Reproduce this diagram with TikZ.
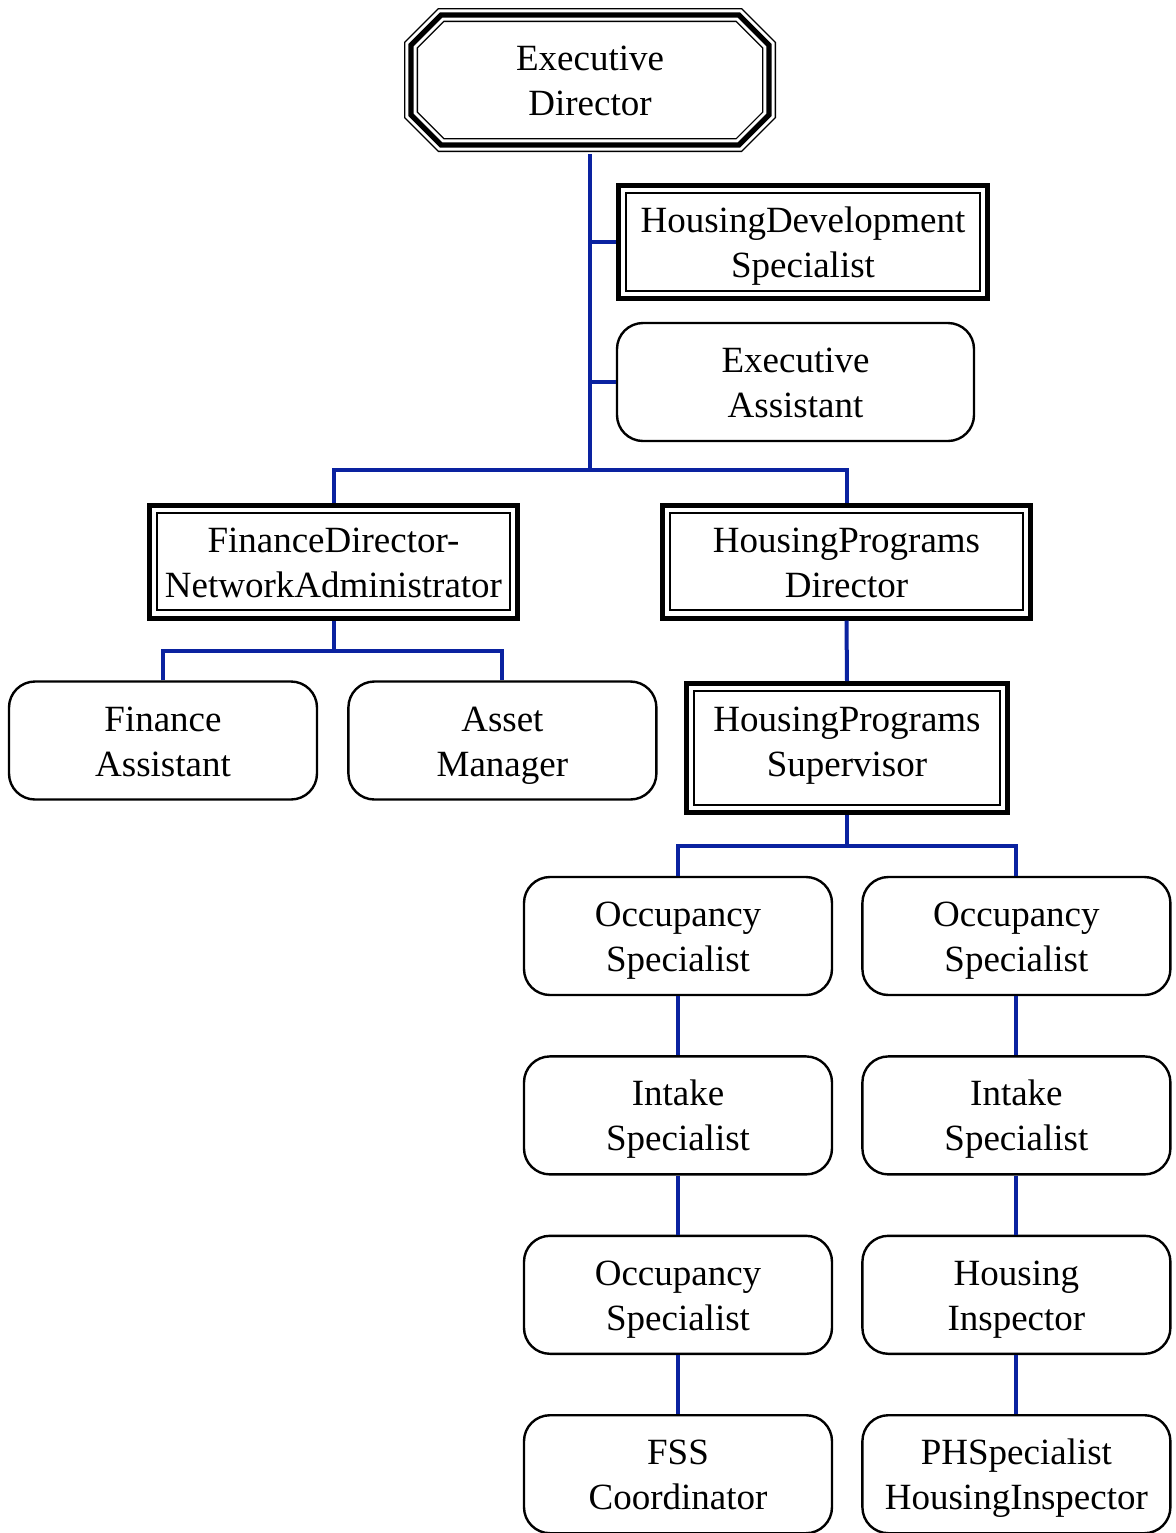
\documentclass[tikz,border=0pt]{standalone}
\usepackage{fontspec}
\setmainfont{Liberation Serif}
\definecolor{linkBlue}{HTML}{0A22A0}
\usetikzlibrary{positioning, shapes.misc}
\newcommand{\boxstrut}{\vrule height 40.5pt depth 5pt width 0pt}

\begin{document}
\begin{tikzpicture}[
      font=\fontsize{18.5pt}{22.5pt}\selectfont,
      every node/.style={execute at begin node=\boxstrut, execute at end node=\boxstrut},
      head/.style={chamfered rectangle, chamfered rectangle xsep=12pt, draw, line width=2.6pt,
                   minimum width=179pt, minimum height=65pt, align=center, outer sep=4.5pt,
                   preaction={draw, line width=0.7pt, double, double distance=5.6pt}},
      lead/.style={draw, line width=2.5pt, minimum height=56.5pt, align=center, inner sep=2pt,
                   path picture={\draw[line width=1pt] ([shift={(3.8pt,3.8pt)}]path picture bounding box.south west)
                                 rectangle ([shift={(-3.8pt,-3.8pt)}]path picture bounding box.north east);}},
      staff/.style={draw, line width=1.2pt, rounded corners=13pt, minimum width=154pt,
                    minimum height=59pt, align=center},
      link/.style={linkBlue, line width=2pt}]
    \useasboundingbox (0,0) rectangle (588pt,-766.5pt);
    \node[head] (ed) at (295pt,-40pt) {Executive\\ Director};
    \node[lead, minimum width=184.5pt] (hds) at (401.5pt,-121pt) {HousingDevelopment\\ Specialist};
    \node[staff, minimum width=178.5pt] (ea) at (397.75pt,-191pt) {Executive\\ Assistant};
    \node[lead, minimum width=184pt] (fd) at (166.75pt,-280.75pt) {FinanceDirector-\\ NetworkAdministrator};
    \node[lead, minimum width=184pt] (hpd) at (423.25pt,-280.75pt) {HousingPrograms\\ Director};
    \node[staff] (fa) at (81.5pt,-370.25pt) {Finance\\ Assistant};
    \node[staff, right=14.5pt of fa] (am) {Asset\\ Manager};
    \node[lead, minimum width=160.5pt, minimum height=64.5pt,
          execute at end node={\vrule depth 12pt width 0pt}] (hps) at (423.5pt,-374pt) {HousingPrograms\\ Supervisor};
    \node[staff] (os1) at (339pt,-468pt) {Occupancy\\ Specialist};
    \node[staff, right=14pt of os1] (os2) {Occupancy\\ Specialist};
    \node[staff, below=29.5pt of os1] (is1) {Intake\\ Specialist};
    \node[staff, below=29.5pt of os2] (is2) {Intake\\ Specialist};
    \node[staff, below=29.5pt of is1] (os3) {Occupancy\\ Specialist};
    \node[staff, below=29.5pt of is2] (hi) {Housing\\ Inspector};
    \node[staff, below=29.5pt of os3] (fss) {FSS\\ Coordinator};
    \node[staff, below=29.5pt of hi] (ph) {PHSpecialist\\ HousingInspector};
    % top of the tree
    \coordinate (j1) at (ed.south |- 0,-235pt);
    \draw[link] (ed.south) -- (j1);
    \draw[link] (ed.south |- hds.west) -- (hds.west);
    \draw[link] (ed.south |- ea.west) -- (ea.west);
    \draw[link] (fd.north) |- (j1) -| (hpd.north);
    % finance side
    \draw[link] (fd.south) -- ++(0,-15pt) coordinate (j2);
    \draw[link] (fa.north) |- (j2) -| (am.north);
    % programs side
    \draw[link] (hpd.south) -- (hps.north);
    \draw[link] (hps.south) -- ++(0,-15.5pt) coordinate (j3);
    \draw[link] (os1.north) |- (j3) -| (os2.north);
    \draw[link] (os1) -- (is1);
    \draw[link] (is1) -- (os3);
    \draw[link] (os3) -- (fss);
    \draw[link] (os2) -- (is2);
    \draw[link] (is2) -- (hi);
    \draw[link] (hi) -- (ph);
  \end{tikzpicture}
\end{document}
